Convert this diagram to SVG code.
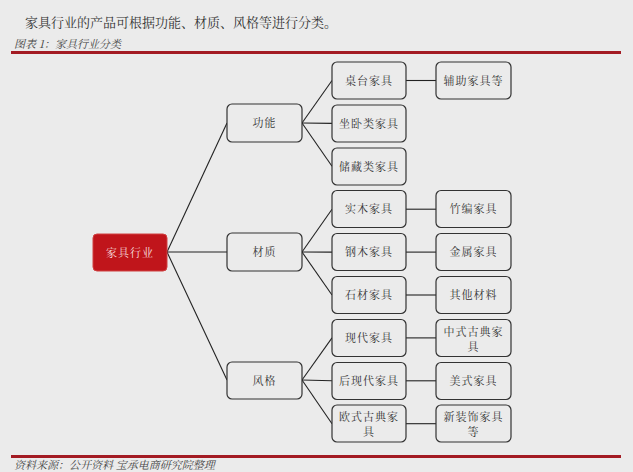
<svg xmlns="http://www.w3.org/2000/svg" width="633" height="472" viewBox="0 0 633 472">
<style>
.bg{fill:#ebebeb}
.n rect{fill:#ebebeb;stroke:#333;stroke-width:1.2}
.n text{font-family:"Noto Serif CJK SC","Noto Sans CJK SC",serif;font-size:11px;fill:#333;text-anchor:middle;letter-spacing:1px}
.root rect{fill:#c0151b;stroke:#d04040;stroke-width:1}
.root text{font-family:"Noto Serif CJK SC","Noto Sans CJK SC",serif;font-size:11px;fill:#f6dede;text-anchor:middle;letter-spacing:1px}
.c path{fill:none;stroke:#222;stroke-width:1.1}
.hdr{font-family:"Noto Serif CJK SC","Noto Sans CJK SC",serif;fill:#333}
.cap{font-family:"Noto Serif CJK SC","Noto Sans CJK SC",serif;font-style:italic;fill:#444;font-size:11px}
</style>
<rect class="bg" x="0" y="0" width="633" height="472"/>
<text class="hdr" x="25" y="27" font-size="13">家具行业的产品可根据功能、材质、风格等进行分类。</text>
<text class="cap" x="14" y="48">图表 1：家具行业分类</text>
<rect x="11" y="51" width="610" height="3" fill="#a31b23"/>
<rect x="11" y="455" width="610" height="3" fill="#a31b23"/>
<text class="cap" x="14" y="469">资料来源：公开资料 宝承电商研究院整理</text>

<g class="c">
<path d="M167 252 L227 123"/>
<path d="M167 252 L227 252"/>
<path d="M167 252 L227 380"/>
<path d="M302 123 L332 80.5"/>
<path d="M302 123 L332 123.4"/>
<path d="M302 123 L332 166.3"/>
<path d="M302 252 L332 209.2"/>
<path d="M302 252 L332 252.1"/>
<path d="M302 252 L332 295"/>
<path d="M302 380 L332 337.9"/>
<path d="M302 380 L332 380.8"/>
<path d="M302 380 L332 423.7"/>
<path d="M406 80.5 L436 80.5"/>
<path d="M406 209.2 L436 209.2"/>
<path d="M406 252.1 L436 252.1"/>
<path d="M406 295 L436 295"/>
<path d="M406 337.9 L436 337.9"/>
<path d="M406 380.8 L436 380.8"/>
<path d="M406 423.7 L436 423.7"/>
</g>

<g id="root" class="root"><rect x="93" y="234" width="74" height="37" rx="4"/><text x="130" y="256.5">家具行业</text></g>

<g id="gongneng" class="n"><rect x="227" y="104" width="75" height="38" rx="5"/><text x="264.5" y="127">功能</text></g>
<g id="caizhi" class="n"><rect x="227" y="233" width="75" height="38" rx="5"/><text x="264.5" y="256">材质</text></g>
<g id="fengge" class="n"><rect x="227" y="362" width="75" height="37" rx="5"/><text x="264.5" y="384.5">风格</text></g>

<g id="zhuotai" class="n"><rect x="332" y="62" width="74" height="37" rx="5"/><text x="369" y="84.5">桌台家具</text></g>
<g id="zuowo" class="n"><rect x="332" y="105" width="74" height="37" rx="5"/><text x="369" y="127.5">坐卧类家具</text></g>
<g id="chucang" class="n"><rect x="332" y="148" width="74" height="37" rx="5"/><text x="369" y="170.5">储藏类家具</text></g>
<g id="shimu" class="n"><rect x="332" y="190.5" width="74" height="37" rx="5"/><text x="369" y="213">实木家具</text></g>
<g id="gangmu" class="n"><rect x="332" y="233.5" width="74" height="37" rx="5"/><text x="369" y="256">钢木家具</text></g>
<g id="shicai" class="n"><rect x="332" y="276.5" width="74" height="37" rx="5"/><text x="369" y="299">石材家具</text></g>
<g id="xiandai" class="n"><rect x="332" y="319.5" width="74" height="37" rx="5"/><text x="369" y="342">现代家具</text></g>
<g id="houxiandai" class="n"><rect x="332" y="362.5" width="74" height="37" rx="5"/><text x="369" y="385">后现代家具</text></g>
<g id="oushi" class="n"><rect x="332" y="405" width="74" height="37" rx="5"/><text x="369" y="421">欧式古典家</text><text x="369" y="436">具</text></g>

<g id="fuzhu" class="n"><rect x="436" y="62" width="75" height="37" rx="5"/><text x="473.5" y="84.5">辅助家具等</text></g>
<g id="zhubian" class="n"><rect x="436" y="190.5" width="75" height="37" rx="5"/><text x="473.5" y="213">竹编家具</text></g>
<g id="jinshu" class="n"><rect x="436" y="233.5" width="75" height="37" rx="5"/><text x="473.5" y="256">金属家具</text></g>
<g id="qita" class="n"><rect x="436" y="276.5" width="75" height="37" rx="5"/><text x="473.5" y="299">其他材料</text></g>
<g id="zhongshi" class="n"><rect x="436" y="319.5" width="75" height="37" rx="5"/><text x="473.5" y="335.5">中式古典家</text><text x="473.5" y="350.5">具</text></g>
<g id="meishi" class="n"><rect x="436" y="362.5" width="75" height="37" rx="5"/><text x="473.5" y="385">美式家具</text></g>
<g id="xinzhuangshi" class="n"><rect x="436" y="405" width="75" height="37" rx="5"/><text x="473.5" y="421">新装饰家具</text><text x="473.5" y="436">等</text></g>
</svg>
